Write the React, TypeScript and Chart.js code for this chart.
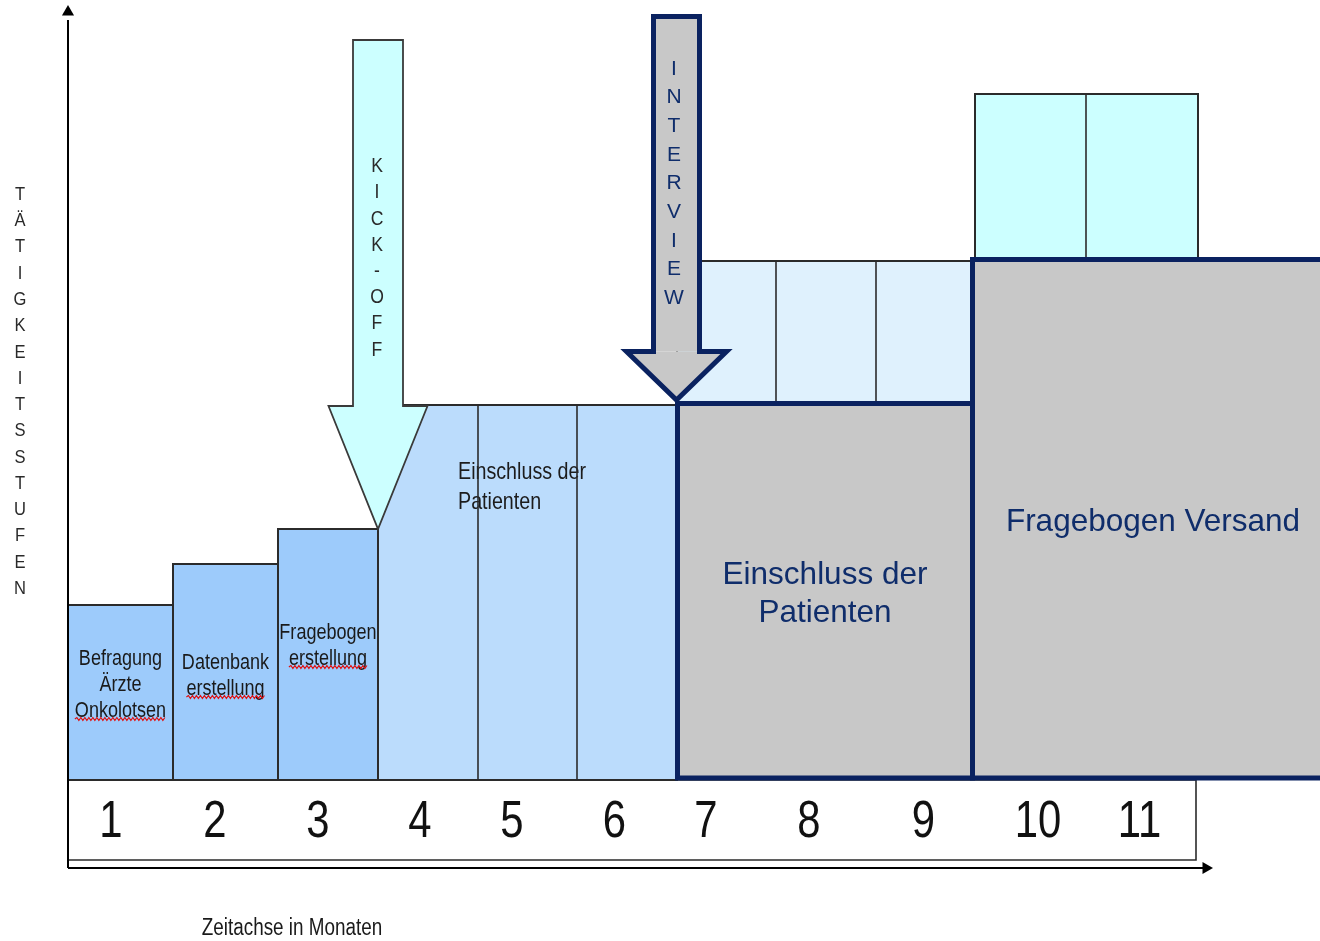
import React, { useEffect, useRef } from "react";
import { Chart, registerables } from "chart.js";

Chart.register(...registerables);

// ---------- data (x = months on the Zeitachse, y = Tätigkeitsstufe) ----------
const monthLabels = ["1", "2", "3", "4", "5", "6", "7", "8", "9", "10", "11"];
const monthLabelPos = [0.43, 1.47, 2.5, 3.52, 4.44, 5.465, 6.38, 7.41, 8.555, 9.7, 10.715];

const prepStart = [0, 1.05, 2.1];
const prepEnd = [1.05, 2.1, 3.1];
const prepLevel = [1.75, 2.16, 2.51];
const prepTexts = [["Befragung", "Ärzte", "Onkolotsen"], ["Datenbank", "erstellung"], ["Fragebogen", "erstellung"]];
const prepTextLevel = [1.23, 1.19, 1.49];
const prepMisspelled = [2, 1, 1];

const inclusionEdges = [3.1, 4.1, 5.09, 6.09];
const inclusionLevel = 3.75;
const inclusionText = ["Einschluss der", "Patienten"];

const interviewEdges = [6.09, 7.08, 8.08, 9.05];
const interviewBase = 3.77;
const interviewLevel = 5.19;

const mailingEdges = [9.07, 10.18, 11.3];
const mailingBase = 5.2;
const mailingLevel = 6.86;

const greyStart = [6.095, 9.045];
const greyEnd = [9.045, 12.8];
const greyLevel = [3.765, 5.205];
const greyBase = 0.02;
const greyTexts = [["Einschluss der", "Patienten"], ["Fragebogen Versand"]];
const greyTextX = [7.57, 10.85];
const greyTextLevel = [2.075, 2.6];

const arrowTexts = ["KICK-OFF", "INTERVIEW"];
const arrowCenter = [3.1, 6.085];
const arrowShaftHalf = [0.25, 0.23];
const arrowHeadHalf = [0.495, 0.5];
const arrowTop = [7.4, 7.635];
const arrowHeadBase = [3.74, 4.285];
const arrowTip = [2.51, 3.8];
const arrowTextX = [3.09, 6.06];
const arrowTextTop = [6.15, 7.13];
const arrowTextStep = [0.262, 0.287];

const yAxisTitle = "TÄTIGKEITSSTUFEN";
const xAxisTitle = "Zeitachse in Monaten";

const monthRowEnd = 11.28;
const monthRowBottom = -0.8;
const axisLevel = -0.88;
const xAxisEnd = 11.36;
const yAxisEnd = 7.6;

// ---------- styles ----------
const SANS = "'Liberation Sans', Arial, Helvetica, sans-serif";
const NAVY = "#0a2260";
const NAVY_TEXT = "#0f2d6b";
const EDGE = "#2b2b2b";

type P = { x: number; y: number };
const pt = (x: number, y: number): P => ({ x, y });

function buildDatasets() {
  const ds: any[] = [];
  const addFill = (label: string, pts: P[], base: number, color: string) =>
    ds.push({
      label,
      data: pts,
      fill: { value: base },
      backgroundColor: color,
      borderColor: "rgba(0,0,0,0)",
      borderWidth: 0,
      pointRadius: 0,
      tension: 0,
    });
  const addStroke = (label: string, pts: P[], color: string, width: number) =>
    ds.push({
      label,
      data: pts,
      fill: false,
      borderColor: color,
      borderWidth: width,
      borderJoinStyle: "miter",
      pointRadius: 0,
      tension: 0,
    });
  const rectPath = (x0: number, x1: number, y0: number, y1: number) => [
    pt(x0, y0), pt(x0, y1), pt(x1, y1), pt(x1, y0), pt(x0, y0), pt(x0, y1),
  ];
  const rect = (label: string, x0: number, x1: number, y0: number, y1: number, color: string, edge: string, w: number) => {
    addFill(label + " Fläche", [pt(x0, y1), pt(x1, y1)], y0, color);
    addStroke(label + " Rand", rectPath(x0, x1, y0, y1), edge, w);
  };

  // month row
  rect("Monate", 0, monthRowEnd, monthRowBottom, 0, "#ffffff", EDGE, 1.6);

  // preparation steps
  prepLevel.forEach((lv, i) => rect("Vorbereitung " + (i + 1), prepStart[i], prepEnd[i], 0, lv, "#9dcbfb", EDGE, 2));

  // inclusion months 4-6
  rect("Einschluss", inclusionEdges[0], inclusionEdges[inclusionEdges.length - 1], 0, inclusionLevel, "#bbdcfc", EDGE, 2);
  inclusionEdges.slice(1, -1).forEach((x, i) =>
    addStroke("Trennlinie Einschluss " + (i + 1), [pt(x, 0), pt(x, inclusionLevel)], EDGE, 1.6)
  );

  // interview months 7-9 (upper light part)
  rect("Interview", interviewEdges[0], interviewEdges[interviewEdges.length - 1], interviewBase, interviewLevel, "#dff1fd", EDGE, 2);
  interviewEdges.slice(1, -1).forEach((x, i) =>
    addStroke("Trennlinie Interview " + (i + 1), [pt(x, interviewBase), pt(x, interviewLevel)], EDGE, 1.6)
  );

  // mailing months 10-11 (upper cyan part)
  rect("Versand oben", mailingEdges[0], mailingEdges[mailingEdges.length - 1], mailingBase, mailingLevel, "#ccffff", EDGE, 2);
  mailingEdges.slice(1, -1).forEach((x, i) =>
    addStroke("Trennlinie Versand " + (i + 1), [pt(x, mailingBase), pt(x, mailingLevel)], EDGE, 1.6)
  );

  // grey blocks
  greyLevel.forEach((lv, i) => rect("Grau " + (i + 1), greyStart[i], greyEnd[i], greyBase, lv, "#c8c8c8", NAVY, 5));

  // arrows
  const arrowFill = ["#ccffff", "#c8c8c8"];
  const arrowEdge = ["#3a3a3a", NAVY];
  const arrowWidth = [1.8, 5];
  arrowTexts.forEach((name, i) => {
    const c = arrowCenter[i], s = arrowShaftHalf[i], h = arrowHeadHalf[i];
    const top = arrowTop[i], base = arrowHeadBase[i], tip = arrowTip[i];
    addFill(name + " Schaft", [pt(c - s, top), pt(c + s, top)], base, arrowFill[i]);
    addFill(name + " Spitze", [pt(c - h, base), pt(c, tip), pt(c + h, base)], base, arrowFill[i]);
    addStroke(
      name + " Rand",
      [pt(c - s, top), pt(c + s, top), pt(c + s, base), pt(c + h, base), pt(c, tip), pt(c - h, base), pt(c - s, base), pt(c - s, top), pt(c + s, top)],
      arrowEdge[i],
      arrowWidth[i]
    );
  });

  // axes
  addStroke("y-Achse", [pt(0, axisLevel), pt(0, yAxisEnd)], "#000", 2);
  addStroke("x-Achse", [pt(0, axisLevel), pt(xAxisEnd, axisLevel)], "#000", 2);
  const head = (label: string, p: P, rot: number) =>
    ds.push({
      label,
      data: [p],
      showLine: false,
      pointRadius: 7,
      pointStyle: "triangle",
      pointRotation: rot,
      pointBackgroundColor: "#000",
      pointBorderColor: "#000",
      pointBorderWidth: 0,
    });
  head("y-Pfeil", pt(0, yAxisEnd + 0.08), 0);
  head("x-Pfeil", pt(xAxisEnd + 0.02, axisLevel), 90);

  ds.forEach((d, i) => (d.order = ds.length - i));
  return ds;
}

function drawText(
  ctx: CanvasRenderingContext2D,
  text: string,
  x: number,
  yc: number,
  size: number,
  color: string,
  align: CanvasTextAlign,
  sx: number
) {
  ctx.save();
  ctx.font = `${size}px ${SANS}`;
  ctx.fillStyle = color;
  ctx.textBaseline = "alphabetic";
  ctx.textAlign = align;
  ctx.translate(x, yc + size * 0.358);
  ctx.scale(sx, 1);
  ctx.fillText(text, 0, 0);
  const w = ctx.measureText(text).width * sx;
  ctx.restore();
  return w;
}

function squiggle(ctx: CanvasRenderingContext2D, x0: number, x1: number, y: number) {
  ctx.save();
  ctx.strokeStyle = "#e01010";
  ctx.lineWidth = 1.2;
  ctx.beginPath();
  let up = true;
  ctx.moveTo(x0, y);
  for (let x = x0 + 2; x <= x1; x += 2) {
    ctx.lineTo(x, y + (up ? -1.5 : 1.5));
    up = !up;
  }
  ctx.stroke();
  ctx.restore();
}

const textPlugin = {
  id: "diagramText",
  beforeDatasetDraw(chart: any, args: any) {
    const d = chart.data.datasets[args.index];
    if (d.label !== "Trennlinie Einschluss 1") return;
    const { ctx } = chart;
    const xs = chart.scales.x, ys = chart.scales.y;
    const x = xs.getPixelForValue(3.9);
    inclusionText.forEach((t, j) => drawText(ctx, t, x, ys.getPixelForValue(3.1) + j * 30, 24, "#1c1c1c", "left", 0.82));
  },
  afterDatasetsDraw(chart: any) {
    const { ctx } = chart;
    const xs = chart.scales.x, ys = chart.scales.y;
    const X = (v: number) => xs.getPixelForValue(v);
    const Y = (v: number) => ys.getPixelForValue(v);

    // preparation labels
    prepTexts.forEach((lines, i) => {
      const cx = X((prepStart[i] + prepEnd[i]) / 2);
      lines.forEach((t, j) => {
        const yc = Y(prepTextLevel[i]) + j * 26;
        const w = drawText(ctx, t, cx, yc, 22, "#1a1a1a", "center", 0.82);
        if (prepMisspelled[i] === j) squiggle(ctx, cx - w / 2, cx + w / 2, yc + 10);
      });
    });

    // grey block labels
    greyTexts.forEach((lines, i) => {
      lines.forEach((t, j) => drawText(ctx, t, X(greyTextX[i]), Y(greyTextLevel[i]) + j * 38, 31.5, NAVY_TEXT, "center", 1));
    });

    // arrow letters
    const arrowSize = [20, 21];
    const arrowColor = ["#2a2a2a", NAVY_TEXT];
    const arrowSx = [0.88, 1];
    arrowTexts.forEach((t, i) => {
      t.split("").forEach((ch, j) =>
        drawText(ctx, ch, X(arrowTextX[i]), Y(arrowTextTop[i] - j * arrowTextStep[i]), arrowSize[i], arrowColor[i], "center", arrowSx[i])
      );
    });

    // month numbers
    monthLabels.forEach((t, i) => drawText(ctx, t, X(monthLabelPos[i]), Y(-0.385), 51, "#111", "center", 0.82));

    // axis titles
    yAxisTitle.split("").forEach((ch, j) => drawText(ctx, ch, X(-0.48), Y(5.865) + j * 26.27, 18, "#2a2a2a", "center", 0.92));
    drawText(ctx, xAxisTitle, X(2.24), Y(-1.465), 23, "#1a1a1a", "center", 0.82);
  },
};

export default function App() {
  const ref = useRef<HTMLCanvasElement | null>(null);
  useEffect(() => {
    if (!ref.current) return;
    const chart = new Chart(ref.current, {
      type: "line",
      data: { datasets: buildDatasets() },
      options: {
        animation: false,
        responsive: false,
        devicePixelRatio: 1,
        events: [],
        layout: { padding: 0, autoPadding: false },
        plugins: { legend: { display: false }, tooltip: { enabled: false }, title: { display: false } },
        scales: {
          x: { type: "linear", min: -0.68, max: 12.52, display: false },
          y: { type: "linear", min: -1.61, max: 7.8, display: false },
        },
      },
      plugins: [textPlugin],
    } as any);
    return () => chart.destroy();
  }, []);
  return (
    <div style={{ position: "absolute", left: 0, top: 0, width: 1320, height: 941, background: "#fff" }}>
      <canvas ref={ref} width={1320} height={941} style={{ display: "block" }} />
    </div>
  );
}
